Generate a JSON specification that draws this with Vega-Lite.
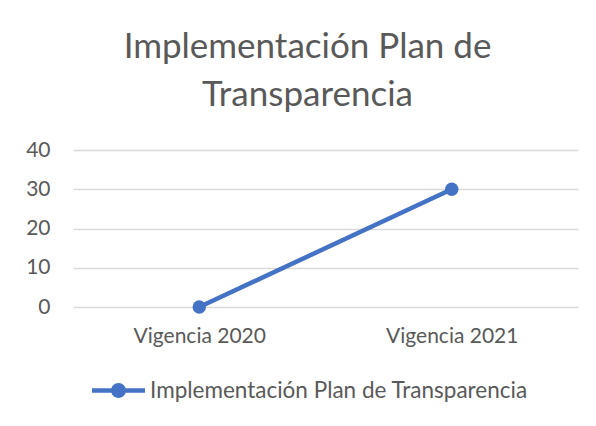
{
  "$schema": "https://vega.github.io/schema/vega-lite/v6.json",
  "width": 505,
  "height": 157,
  "autosize": {"type": "none"},
  "padding": {"left": 73, "top": 150, "right": 18, "bottom": 119},
  "background": "white",
  "title": {
    "text": ["Implementación Plan de", "Transparencia"],
    "font": "Lato",
    "fontSize": 35,
    "fontWeight": "normal",
    "color": "#595959",
    "lineHeight": 48,
    "anchor": "middle",
    "dx": -18,
    "offset": 26
  },
  "data": {
    "values": [
      {"vigencia": "Vigencia 2020", "valor": 0, "serie": "Implementación Plan de Transparencia"},
      {"vigencia": "Vigencia 2021", "valor": 30, "serie": "Implementación Plan de Transparencia"}
    ]
  },
  "encoding": {
    "x": {
      "field": "vigencia",
      "type": "ordinal",
      "scale": {"type": "point", "padding": 0.5},
      "axis": {
        "title": null,
        "labelAngle": 0,
        "domain": false,
        "ticks": false,
        "labelFont": "Lato",
        "labelFontSize": 21,
        "labelColor": "#595959",
        "labelPadding": 18
      }
    },
    "y": {
      "field": "valor",
      "type": "quantitative",
      "scale": {"domain": [0, 40], "nice": false},
      "axis": {
        "title": null,
        "values": [0, 10, 20, 30, 40],
        "domain": false,
        "ticks": false,
        "grid": true,
        "gridColor": "#D9D9D9",
        "gridWidth": 1.3,
        "labelFont": "Lato",
        "labelFontSize": 21,
        "labelColor": "#595959",
        "labelPadding": 23
      }
    },
    "color": {
      "field": "serie",
      "type": "nominal",
      "scale": {"range": ["#4472C4"]},
      "legend": {
        "title": null,
        "orient": "none",
        "legendX": 19,
        "legendY": 214,
        "labelFont": "Lato",
        "labelFontSize": 22.5,
        "labelColor": "#595959",
        "labelOffset": 5,
        "labelLimit": 600,
        "symbolType": "M -1 -0.085 H 1 V 0.085 H -1 Z M 0.28 0 A 0.28 0.28 0 1 1 -0.28 0 A 0.28 0.28 0 1 1 0.28 0 Z",
        "symbolSize": 2809,
        "symbolStrokeWidth": 0,
        "symbolFillColor": "#4472C4"
      }
    }
  },
  "layer": [
    {"mark": {"type": "line", "strokeWidth": 4.5, "strokeCap": "round"}},
    {"mark": {"type": "point", "filled": true, "size": 180, "opacity": 1, "shape": "circle"}}
  ],
  "config": {"view": {"stroke": null}}
}
